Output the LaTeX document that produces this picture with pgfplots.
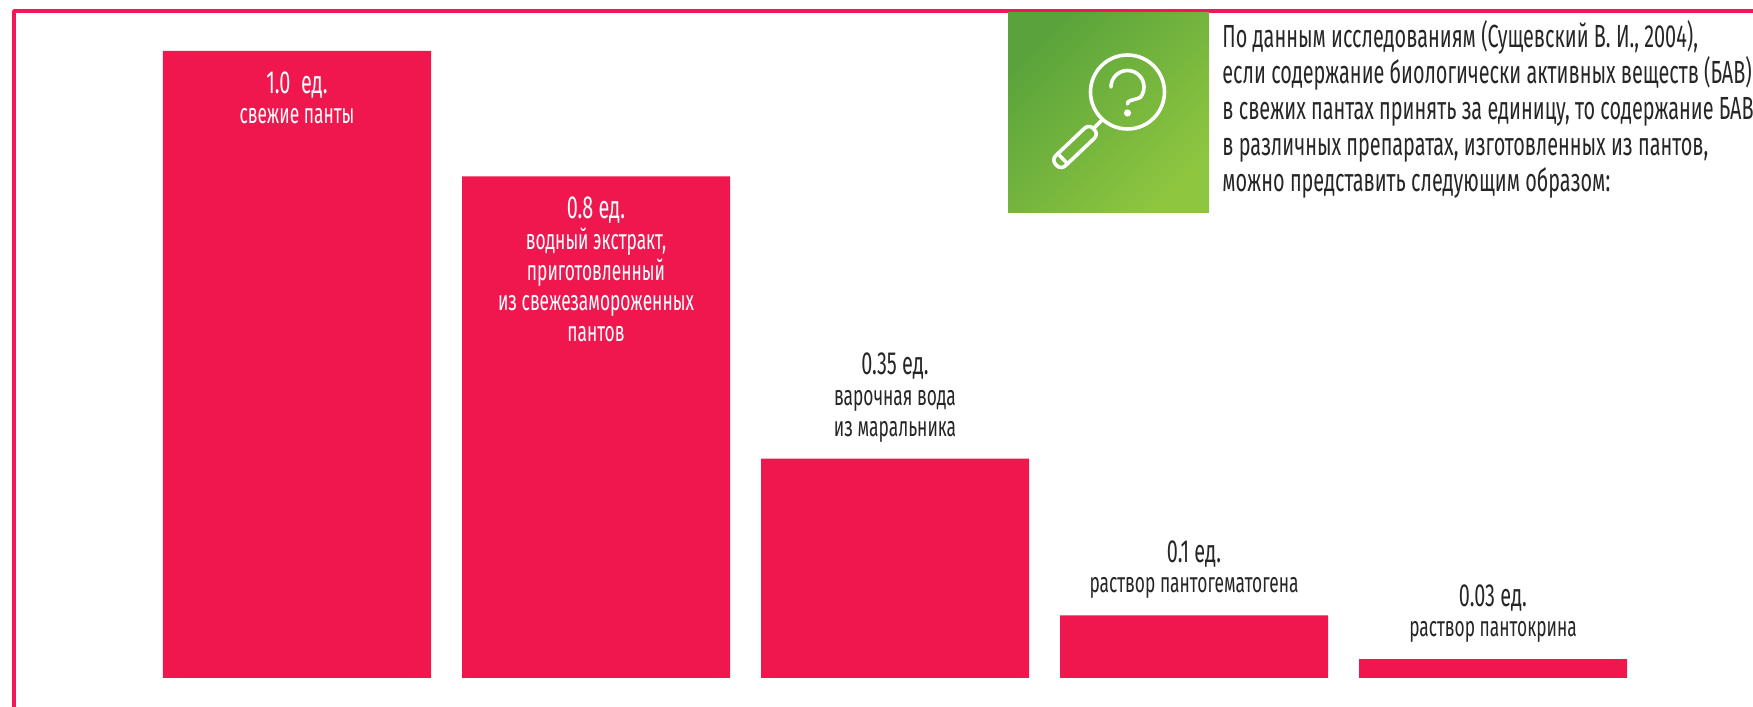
\documentclass[border=0pt]{standalone}
\usepackage{fontspec}
\setmainfont{Fira Sans}[FakeStretch=0.62]
\usepackage{pgfplots}
\pgfplotsset{compat=1.18}
\usepackage{pgfplotstable}
\definecolor{crimson}{HTML}{F0174F}
\definecolor{frame}{HTML}{F5155A}
\definecolor{greenA}{HTML}{5AA33C}
\definecolor{greenB}{HTML}{8EC63F}
\definecolor{ink}{HTML}{262626}

% Relative content of active substances, in units of fresh antlers
\pgfplotstableread{
idx value
0 1.0
1 0.8
2 0.35
3 0.1
4 0.03
}\bavtable

\newcommand{\val}[1]{{\fontsize{16}{15.4}\selectfont #1}}
\newcommand{\desc}[1]{{\fontsize{14}{15.4}\selectfont #1}}
\tikzset{barlabel/.style={align=center, inner sep=0pt, font=\fontsize{14}{15.4}\selectfont}}

\begin{document}
\begin{tikzpicture}[x=0.5pt,y=0.5pt]
  \path[use as bounding box] (0,0) rectangle (1753,707);
  \clip (0,0) rectangle (1753,707);

  % Open frame: left and top edges only, running off the page
  \draw[frame,line width=1.9pt,line join=round] (14,-5) -- (14,696) -- (1760,696);

  \begin{axis}[
    at={(73.75pt,14.5pt)}, anchor=south west,
    scale only axis, width=747.5pt, height=313.5pt,
    xmin=-0.5, xmax=4.5, ymin=0, ymax=1,
    hide axis, clip=false, ybar, bar width=134pt,
  ]
    \addplot[fill=crimson, draw=none] table[x=idx, y=value] {\bavtable};

    \node[barlabel, text=white, anchor=north, yshift=-10pt] at (axis cs:0,1.0)
      {\val{1.0\ \ ед.}\\ \desc{свежие панты}};
    \node[barlabel, text=white, anchor=north, yshift=-10pt] at (axis cs:1,0.8)
      {\val{0.8 ед.}\\ \desc{водный экстракт,}\\ \desc{приготовленный}\\ \desc{из свежезамороженных}\\ \desc{пантов}};
    \node[barlabel, text=ink, anchor=south, yshift=8pt] at (axis cs:2,0.35)
      {\val{0.35 ед.}\\ \desc{варочная вода}\\ \desc{из маральника}};
    \node[barlabel, text=ink, anchor=south, yshift=8pt] at (axis cs:3,0.1)
      {\val{0.1 ед.}\\ \desc{раствор пантогематогена}};
    \node[barlabel, text=ink, anchor=south, yshift=8pt] at (axis cs:4,0.03)
      {\val{0.03 ед.}\\ \desc{раствор пантокрина}};
  \end{axis}

  % Green tile with a magnifier and a question mark
  \shade[top color=greenA, bottom color=greenB, shading angle=45]
    (1008,494) rectangle (1209,694);
  \begin{scope}[white, line width=1.8pt, line cap=round, line join=round]
    \draw (1127.5,615) circle (37);
    \draw (1101,586) -- (1094,579);
    \draw[rounded corners=3pt, rotate around={43.5:(1075,560)}] (1049,553) rectangle (1101,567);
    \draw[rotate around={43.5:(1075,560)}] (1058,553) -- (1058,567);
    \draw (1111,620) arc[start angle=180, end angle=-40, radius=16.5]
       .. controls (1131,606) and (1127.5,607) .. (1127.5,603);
    \fill (1127.5,594) circle (3.6);
  \end{scope}

  % Explanatory text, set line by line
  \begin{scope}[every node/.style={anchor=base west, inner sep=0pt, text=ink, font=\fontsize{16}{18}\selectfont}]
    \node at (1222,659) {По данным исследованиям (Сущевский В. И., 2004),};
    \node at (1222,623) {если содержание биологически активных веществ (БАВ)};
    \node at (1222,587) {в свежих пантах принять за единицу, то содержание БАВ};
    \node at (1222,551) {в различных препаратах, изготовленных из пантов,};
    \node at (1222,515) {можно представить следующим образом:};
  \end{scope}
\end{tikzpicture}
\end{document}
